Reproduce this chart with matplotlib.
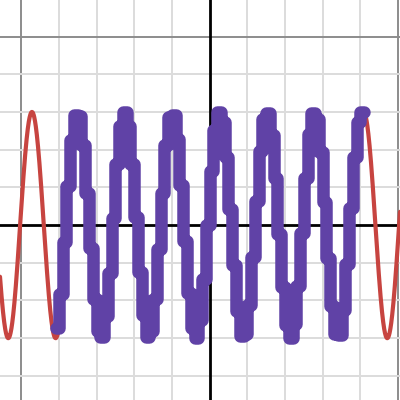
import numpy as np
import matplotlib
matplotlib.use('Agg')
import matplotlib.pyplot as plt

# Desmos-style graph: a sine wave and a sampled (held) version of it
AMPLITUDE = 3.0
FREQ = 5.0
STEP = 0.1                         # sample spacing of the staircase
SAMPLE_RANGE = [-1.3 * np.pi, 1.3 * np.pi]

X_VIEW = [-5.56, 5.05]
Y_VIEW = [-4.64, 5.97]

RED = '#c74440'
PURPLE = '#6042a6'


def wave(x):
    return AMPLITUDE * np.sin(FREQ * x)


fig = plt.figure(figsize=(4, 4), dpi=100)
ax = fig.add_axes([0, 0, 1, 1])
ax.set_xlim(X_VIEW)
ax.set_ylim(Y_VIEW)
ax.axis('off')

#grid: minor every unit, major every 5
for gx in range(-6, 7):
    if gx == 0:
        continue
    col = '#8c8c8c' if gx % 5 == 0 else '#dcdcdc'
    ax.axvline(gx, color=col, linewidth=1.4, zorder=1)
for gy in range(-5, 7):
    if gy == 0:
        continue
    col = '#8c8c8c' if gy % 5 == 0 else '#dcdcdc'
    ax.axhline(gy, color=col, linewidth=1.4, zorder=1)

ax.axhline(0, color='black', linewidth=2.0, zorder=2)
ax.axvline(0, color='black', linewidth=2.0, zorder=2)

#smooth sine
xs = np.linspace(X_VIEW[0], X_VIEW[1], 2000)
ax.plot(xs, wave(xs), color=RED, linewidth=3.0, solid_capstyle='round', zorder=3)

#staircase: value held from the next sample point (ceil to STEP)
inner = np.arange(np.ceil(SAMPLE_RANGE[0] / STEP), np.floor(SAMPLE_RANGE[1] / STEP) + 1) * STEP
edges = np.concatenate([[SAMPLE_RANGE[0]], inner, [SAMPLE_RANGE[1]]])
mids = (edges[:-1] + edges[1:]) / 2
held = wave(np.ceil(np.round(mids / STEP, 6)) * STEP)
held = np.append(held, held[-1])
ax.step(edges, held, where='post', color=PURPLE, linewidth=9.0,
        solid_capstyle='round', solid_joinstyle='round', zorder=4)

fig.savefig('out.png', dpi=100)
